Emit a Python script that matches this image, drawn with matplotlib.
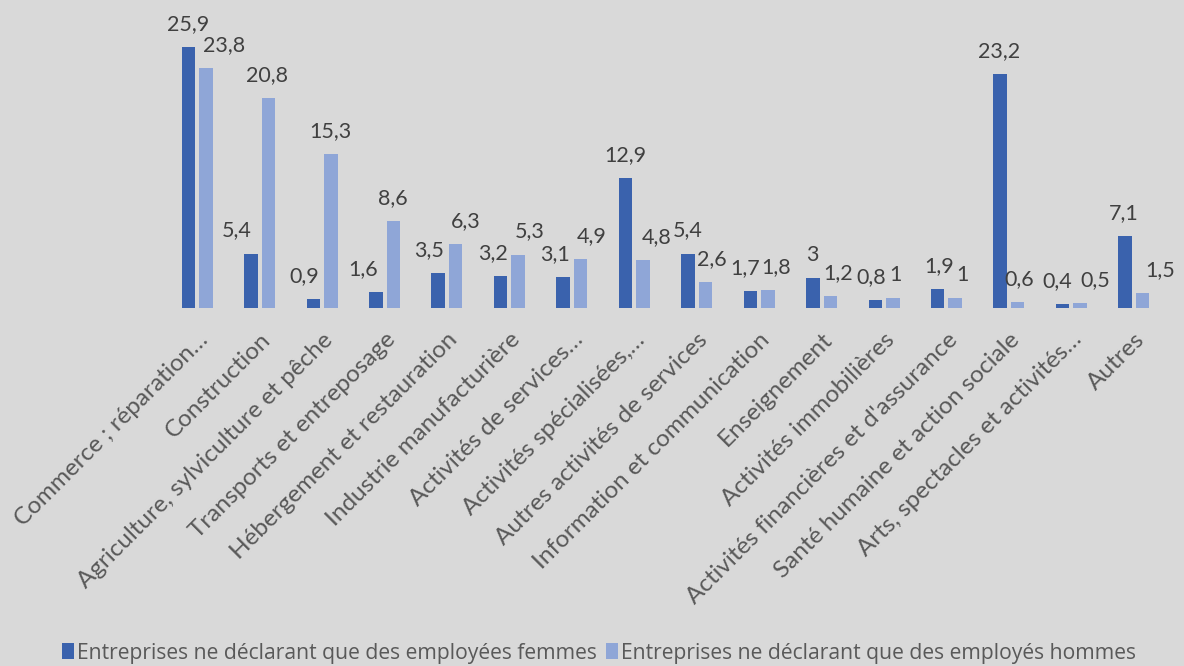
"""
Entreprises ne déclarant que des employé(e)s d'un seul sexe, par secteur.
"""

import matplotlib
matplotlib.use("Agg")
import matplotlib.pyplot as plt
import matplotlib.transforms as mtransforms
import numpy as np

# ── Données ──────────────────────────────────────────────────────────────────
categories = [
    "Commerce ; réparation…",
    "Construction",
    "Agriculture, sylviculture et pêche",
    "Transports et entreposage",
    "Hébergement et restauration",
    "Industrie manufacturière",
    "Activités de services…",
    "Activités spécialisées,…",
    "Autres activités de services",
    "Information et communication",
    "Enseignement",
    "Activités immobilières",
    "Activités financières et d'assurance",
    "Santé humaine et action sociale",
    "Arts, spectacles et activités…",
    "Autres",
]
femmes = [25.9, 5.4, 0.9, 1.6, 3.5, 3.2, 3.1, 12.9, 5.4, 1.7, 3, 0.8, 1.9, 23.2, 0.4, 7.1]
hommes = [23.8, 20.8, 15.3, 8.6, 6.3, 5.3, 4.9, 4.8, 2.6, 1.8, 1.2, 1, 1, 0.6, 0.5, 1.5]

label_femmes = "Entreprises ne déclarant que des employées femmes"
label_hommes = "Entreprises ne déclarant que des employés hommes"

# décalages horizontaux des étiquettes (pixels), comme dans l'original Excel
dx_femmes = [0, -14, -9, -13, -9, -8, -8, 0, 0, -5, 0, -4, 1, -1, -5, -1]
dx_hommes = [18, -1, 0, 0, 10, 12, 11, 14, 6, 8, 8, 3, 7, 2, 15, 18]

# ── Style ────────────────────────────────────────────────────────────────────
BG = "#D9D9D9"
C_F = "#3A62AD"
C_H = "#8FA6D7"
TXT = "#404040"
TICK_TXT = "#595959"
W, H = 1184, 666

fig = plt.figure(figsize=(W / 100, H / 100), dpi=100, facecolor=BG)
ax = fig.add_axes([166 / W, (H - 308) / H, 999 / W, 308 / H])
ax.set_facecolor(BG)

x = np.arange(len(categories))
off, bw = 0.14, 0.216
bars_f = ax.bar(x - off, femmes, bw, color=C_F, label=label_femmes)
bars_h = ax.bar(x + off, hommes, bw, color=C_H, label=label_hommes)

ax.set_xlim(-0.5, len(categories) - 0.5)
ax.set_ylim(0, 308 / 10.08)

def fmt(v):
    return f"{v:g}".replace(".", ",")

for bars, vals, dxs in [(bars_f, femmes, dx_femmes), (bars_h, hommes, dx_hommes)]:
    for b, v, dx in zip(bars, vals, dxs):
        ax.annotate(fmt(v), (b.get_x() + b.get_width() / 2, v),
                    xytext=(dx, 23), textcoords="offset pixels",
                    ha="center", va="center", fontsize=15.5,
                    family="Lato", color=TXT, annotation_clip=False)

ax.set_xticks(x)
ax.set_xticklabels(categories, rotation=45, ha="right", va="top",
                   rotation_mode="anchor", fontsize=17.5, family="Lato",
                   color=TICK_TXT)
shift = mtransforms.ScaledTranslation(-10 / 100, 0, fig.dpi_scale_trans)
for lab in ax.get_xticklabels():
    lab.set_transform(lab.get_transform() + shift)
ax.tick_params(axis="x", length=0, pad=15)
ax.set_yticks([])
for s in ax.spines.values():
    s.set_visible(False)

fig.legend(loc="center", bbox_to_anchor=(599 / W, 1 - 653 / H), ncol=2,
           frameon=False, handlelength=0.55, handleheight=0.8,
           handletextpad=0.15, columnspacing=0.45, borderaxespad=0,
           prop={"family": "Open Sans", "size": 15.2},
           labelcolor=TICK_TXT)

fig.savefig("out.png", dpi=100, facecolor=BG)
